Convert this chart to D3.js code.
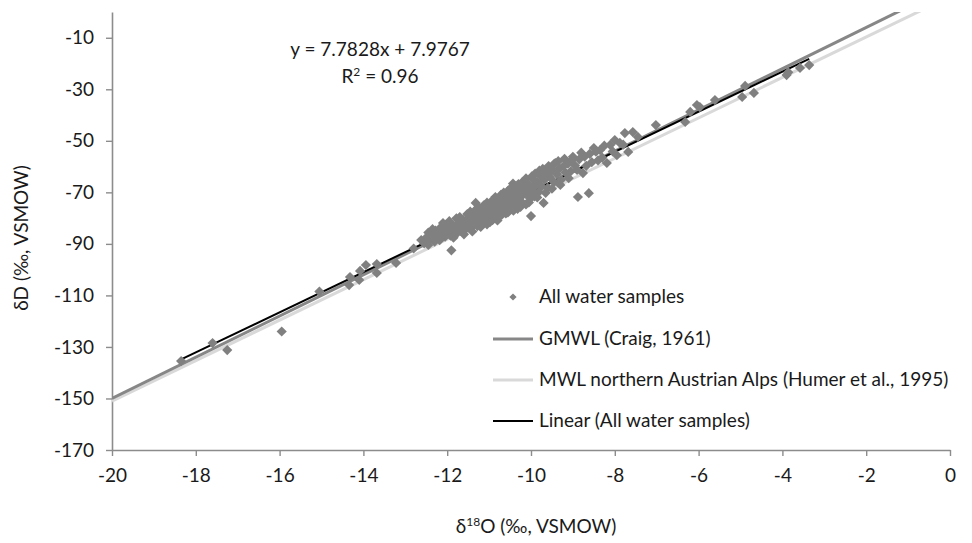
<!DOCTYPE html>
<html lang="en">
<head>
<meta charset="utf-8">
<title>dD vs d18O</title>
<script src="https://d3js.org/d3.v7.min.js"></script>
<style>
  body { margin: 0; background: #fff; }
  svg { display: block; font-family: Lato, "Open Sans", sans-serif; }
</style>
</head>
<body>
<div id="chart"></div>
<script>
// Data (d18O, dD)
const samples = [
  [-18.35,-135.5],[-17.6,-128.5],[-17.25,-131.2],[-15.95,-124],[-15.05,-108.5],
  [-14.34,-106],[-14.32,-102.9],[-14.1,-104],[-14.08,-100.5],[-13.94,-98.2],
  [-13.68,-97.8],[-13.68,-101.3],[-13.22,-97.4],[-12.8,-91.8],
  [-12.62,-88.5],[-12.55,-89.8],[-12.5,-87.6],[-12.45,-90.4],[-12.4,-88.2],[-12.35,-86.9],
  [-12.3,-89.1],[-12.25,-87.5],[-12.2,-85.8],[-12.18,-88.6],[-12.12,-86.4],[-12.1,-81.9],
  [-12.05,-87.2],[-12.02,-84.7],
  [-11.98,-85.9],[-11.95,-83.8],[-11.92,-86.8],[-11.9,-92.5],[-11.88,-84.6],[-11.85,-82.9],
  [-11.82,-85.5],[-11.8,-83.6],[-11.78,-86.1],[-11.75,-82.2],[-11.72,-84.3],[-11.7,-81.5],
  [-11.68,-85.0],[-11.65,-83.1],[-11.62,-80.7],[-11.6,-82.8],[-11.58,-84.6],[-11.55,-81.6],
  [-11.52,-83.4],[-11.5,-80.2],[-11.48,-82.1],[-11.45,-84.0],[-11.42,-80.9],[-11.4,-79.3],
  [-11.38,-82.6],[-11.35,-81.0],[-11.32,-74.1],[-11.3,-79.8],[-11.28,-83.1],[-11.25,-78.5],
  [-11.22,-80.6],[-11.2,-77.4],[-11.18,-81.9],[-11.15,-79.2],[-11.12,-76.8],[-11.1,-80.3],
  [-11.08,-78.1],[-11.05,-82.4],[-11.02,-77.0],
  [-11.0,-79.0],[-10.97,-75.6],[-10.95,-77.9],[-10.92,-80.8],[-10.9,-76.2],[-10.88,-78.4],
  [-10.85,-74.8],[-10.82,-77.3],[-10.8,-79.6],[-10.78,-75.5],[-10.75,-73.6],[-10.72,-76.9],
  [-10.7,-78.8],[-10.68,-74.4],[-10.65,-72.3],[-10.62,-76.0],[-10.6,-74.9],[-10.58,-71.5],
  [-10.55,-77.8],[-10.52,-73.3],[-10.5,-75.2],[-10.48,-70.6],[-10.45,-72.8],[-10.43,-66.6],
  [-10.4,-74.3],[-10.38,-71.9],[-10.35,-69.8],[-10.32,-76.4],[-10.3,-72.6],[-10.28,-70.4],
  [-10.25,-68.7],[-10.22,-73.8],[-10.2,-71.1],[-10.18,-67.9],[-10.15,-69.9],[-10.12,-74.7],
  [-10.1,-70.8],[-10.08,-68.2],[-10.05,-66.9],[-10.02,-72.4],
  [-10.0,-79.2],[-9.98,-69.5],[-9.95,-64.8],[-9.92,-71.6],[-9.9,-67.5],[-9.85,-65.9],
  [-9.82,-69.9],[-9.78,-63.4],[-9.75,-67.8],[-9.7,-74.1],[-9.68,-65.2],[-9.62,-62.6],
  [-9.6,-68.3],[-9.55,-64.1],[-9.5,-61.4],[-9.45,-66.0],[-9.42,-58.6],[-9.38,-63.0],
  [-9.32,-60.7],[-9.28,-65.1],[-9.22,-59.8],[-9.18,-62.3],[-9.12,-58.9],[-9.05,-61.8],
  [-9.02,-57.4],
  [-8.95,-59.6],[-8.88,-71.8],[-8.85,-57.2],[-8.76,-62.5],[-8.72,-56.1],[-8.62,-70.3],
  [-8.6,-55.1],[-8.55,-58.3],[-8.45,-54.2],[-8.35,-53.6],[-8.3,-56.5],[-8.19,-58.6],
  [-8.11,-51.6],[-8.05,-54.1],[-7.88,-50.8],[-7.76,-47.0],[-7.68,-54.3],[-7.57,-46.6],
  [-7.45,-48.5],
  [-12.45,-85.6],[-12.28,-84.8],[-12.15,-83.5],[-11.95,-81.2],[-11.85,-87.6],[-11.7,-79.6],
  [-11.6,-86.3],[-11.52,-78.4],[-11.45,-77.5],[-11.4,-85.2],[-11.33,-76.9],[-11.25,-75.8],
  [-11.2,-83.4],[-11.12,-74.9],[-11.05,-74.0],[-10.98,-81.6],[-10.92,-73.1],[-10.85,-71.8],
  [-10.8,-80.9],[-10.72,-71.0],[-10.65,-70.1],[-10.6,-78.2],[-10.55,-69.4],[-10.48,-68.3],
  [-10.42,-77.1],[-10.38,-67.6],[-10.3,-66.8],[-10.25,-75.6],[-10.2,-65.9],[-10.12,-64.6],
  [-10.05,-73.9],[-9.98,-63.8],[-9.9,-62.7],[-9.85,-72.0],[-9.8,-61.6],[-9.72,-60.9],
  [-9.65,-70.2],[-9.58,-59.8],[-9.5,-68.6],[-9.45,-59.0],[-9.35,-57.9],[-9.3,-67.1],
  [-9.2,-57.0],[-9.1,-64.5],[-9.0,-56.2],[-8.9,-61.3],[-8.8,-54.6],[-8.68,-59.7],
  [-8.5,-52.8],[-8.4,-57.6],[-8.25,-51.9],[-8.0,-49.7],[-7.95,-55.6],[-7.8,-51.5],
  [-12.35,-84.3],[-12.05,-82.6],[-11.78,-80.1],
  [-7.02,-43.9],[-6.32,-42.7],[-6.2,-38.8],[-6.04,-36.1],[-5.97,-36.9],[-5.61,-34.2],
  [-4.96,-33.0],[-4.89,-28.7],[-4.68,-31.4],[-3.9,-24.5],[-3.86,-23.4],[-3.58,-21.7],
  [-3.36,-20.6]
];

// Reference lines: [slope, intercept]
const gmwl = [8, 10];
const mwlAlps = [7.85, 6.0];
const fit = [7.7828, 7.9767];
const fitRange = [-18.35, -3.36];

const xTicks = [-20, -18, -16, -14, -12, -10, -8, -6, -4, -2, 0];
const yTicks = [-170, -150, -130, -110, -90, -70, -50, -30, -10];

const width = 972;
const height = 543;
const margin = { top: 12, right: 22, bottom: 93, left: 112 };

const svg = d3.select("#chart")
  .append("svg")
  .attr("width", width)
  .attr("height", height);

const x = d3.scaleLinear()
  .domain([-20, 0])
  .range([margin.left, width - margin.right]);

const y = d3.scaleLinear()
  .domain([-170, 0])
  .range([height - margin.bottom, margin.top]);

const axisColor = "#8c8c8c";
const textColor = "#1a1a1a";
const fontSize = "19px";

svg.append("clipPath")
  .attr("id", "plot-clip")
  .append("rect")
  .attr("x", margin.left)
  .attr("y", margin.top)
  .attr("width", x(0) - margin.left)
  .attr("height", y(-170) - margin.top);

// Axes (plain hyphen minus like the source)
const fmt = d => String(d);

const xAxis = svg.append("g")
  .attr("transform", `translate(0, ${y(-170)})`)
  .call(d3.axisBottom(x).tickValues(xTicks).tickFormat(fmt).tickSize(6).tickSizeOuter(0).tickPadding(13));

const yAxis = svg.append("g")
  .attr("transform", `translate(${x(-20)}, 0)`)
  .call(d3.axisLeft(y).tickValues(yTicks).tickFormat(fmt).tickSize(6).tickSizeOuter(0).tickPadding(12));

[xAxis, yAxis].forEach(g => {
  g.select(".domain").attr("stroke", axisColor).attr("stroke-width", 1.6);
  g.selectAll(".tick line").attr("stroke", axisColor).attr("stroke-width", 1.4);
  g.selectAll(".tick text")
    .attr("fill", textColor)
    .attr("font-size", fontSize)
    .attr("font-family", "Lato, 'Open Sans', sans-serif");
});

// Lines
const lineLayer = svg.append("g").attr("clip-path", "url(#plot-clip)");

function drawLine(coef, x0, x1, color, w) {
  lineLayer.append("line")
    .attr("x1", x(x0))
    .attr("y1", y(coef[0] * x0 + coef[1]))
    .attr("x2", x(x1))
    .attr("y2", y(coef[0] * x1 + coef[1]))
    .attr("stroke", color)
    .attr("stroke-width", w);
}

drawLine(mwlAlps, -20, 0, "#d9d9d9", 3);
drawLine(gmwl, -20, 0, "#878787", 3);

// Points
const diamond = d3.symbol().type(d3.symbolSquare).size(52);
svg.append("g")
  .selectAll("path")
  .data(samples)
  .join("path")
  .attr("d", diamond)
  .attr("transform", d => `translate(${x(d[0])}, ${y(d[1])}) rotate(45)`)
  .attr("fill", "#808080");

drawLine(fit, fitRange[0], fitRange[1], "#000", 2);

// Equation
const eq = svg.append("text")
  .attr("text-anchor", "middle")
  .attr("fill", textColor)
  .attr("font-size", fontSize);
eq.append("tspan").attr("x", 380).attr("y", 56).text("y = 7.7828x + 7.9767");
const r2 = eq.append("tspan").attr("x", 380).attr("y", 83);
r2.append("tspan").text("R");
r2.append("tspan").attr("dy", -7).attr("font-size", "12px").text("2");
r2.append("tspan").attr("dy", 7).text(" = 0.96");

// Legend
const legend = svg.append("g").attr("font-size", fontSize).attr("fill", textColor);
const legendItems = [
  { label: "All water samples", kind: "point", y: 297 },
  { label: "GMWL (Craig, 1961)", kind: "line", color: "#878787", w: 3, y: 339 },
  { label: "MWL northern Austrian Alps (Humer et al., 1995)", kind: "line", color: "#d9d9d9", w: 3, y: 380 },
  { label: "Linear (All water samples)", kind: "line", color: "#000", w: 2, y: 421 }
];
legendItems.forEach(item => {
  if (item.kind === "point") {
    legend.append("path")
      .attr("d", d3.symbol().type(d3.symbolSquare).size(26))
      .attr("transform", `translate(513, ${item.y}) rotate(45)`)
      .attr("fill", "#808080");
  } else {
    legend.append("line")
      .attr("x1", 493).attr("x2", 533)
      .attr("y1", item.y).attr("y2", item.y)
      .attr("stroke", item.color)
      .attr("stroke-width", item.w);
  }
  legend.append("text")
    .attr("x", 539)
    .attr("y", item.y + 6)
    .text(item.label);
});

// Axis titles
const xt = svg.append("text")
  .attr("x", 536)
  .attr("y", 533)
  .attr("text-anchor", "middle")
  .attr("fill", textColor)
  .attr("font-size", fontSize);
xt.append("tspan").text("δ");
xt.append("tspan").attr("dy", -7).attr("font-size", "12px").text("18");
xt.append("tspan").attr("dy", 7).text("O (‰, VSMOW)");

svg.append("text")
  .attr("transform", "translate(28, 238) rotate(-90)")
  .attr("text-anchor", "middle")
  .attr("fill", textColor)
  .attr("font-size", fontSize)
  .text("δD (‰, VSMOW)");
</script>
</body>
</html>
